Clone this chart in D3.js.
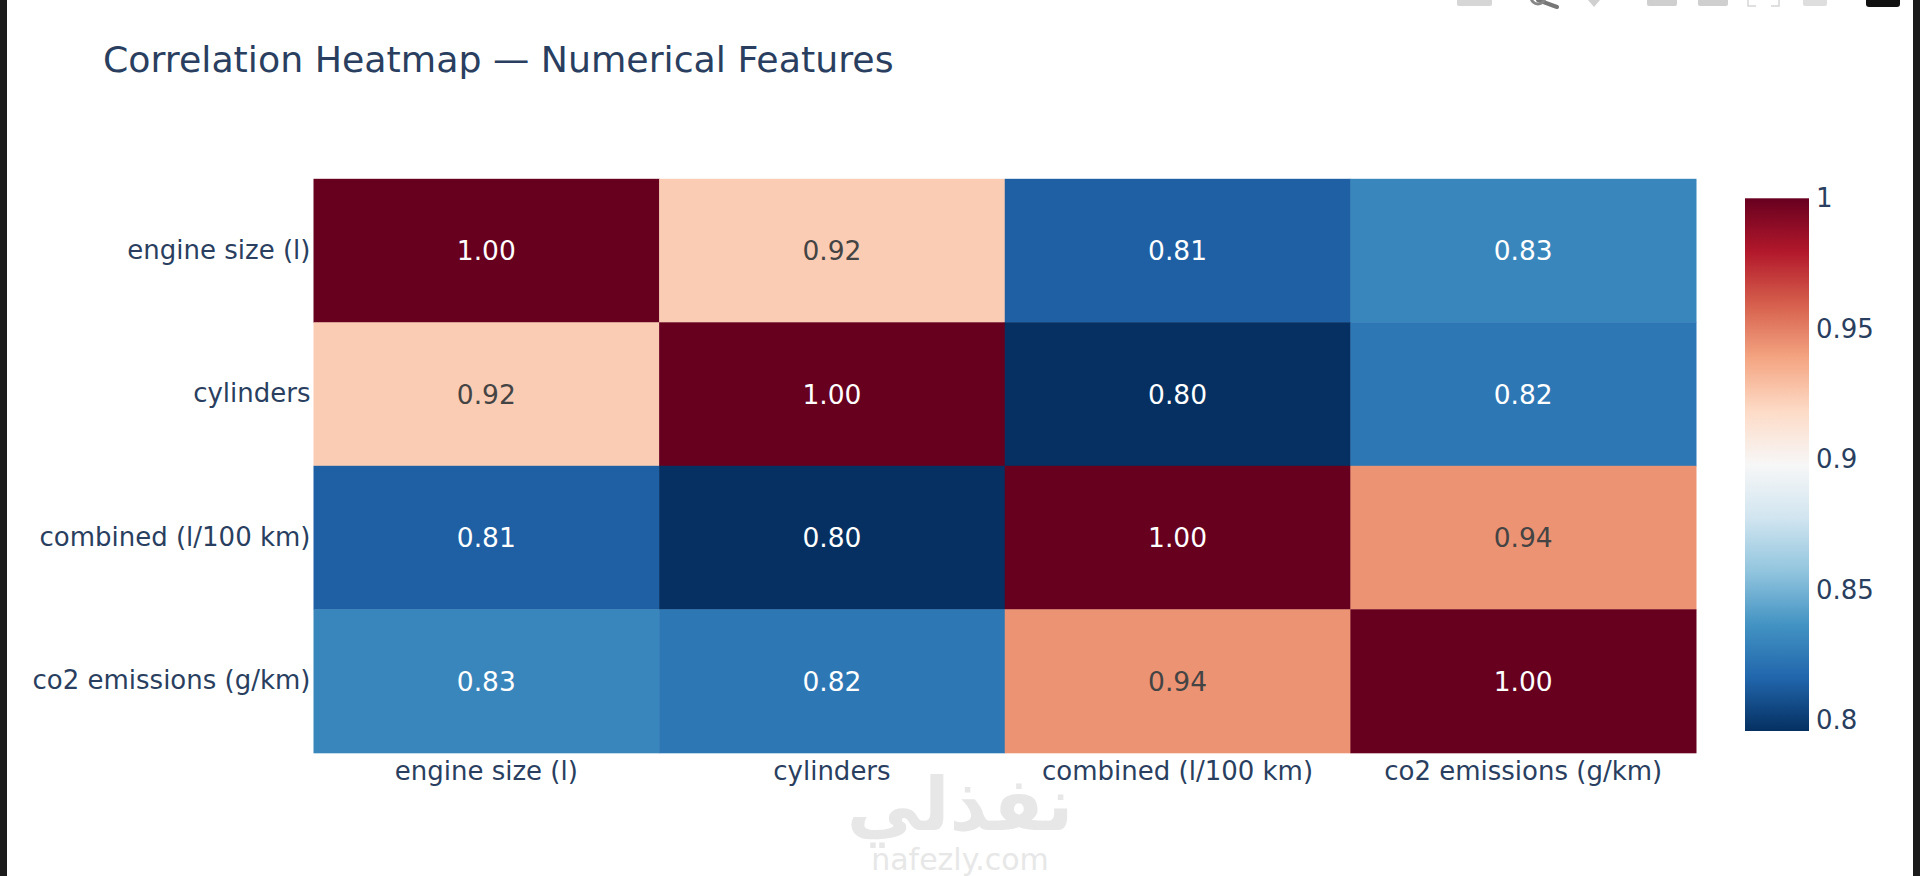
<!DOCTYPE html>
<html>
<head>
<meta charset="utf-8">
<script src="https://cdn.jsdelivr.net/npm/d3@7"></script>
<style>
  html, body { margin: 0; padding: 0; background: #fff; }
  svg { display: block; }
  text { font-family: "DejaVu Sans", Verdana, sans-serif; }
</style>
</head>
<body>
<svg id="chart" width="1920" height="876"></svg>
<script>
// feature names, same order on both axes
var features = ['engine size (l)', 'cylinders', 'combined (l/100 km)', 'co2 emissions (g/km)'];

// correlation rows
var rowEngine   = [1.000, 0.924, 0.814, 0.831];
var rowCyl      = [0.924, 1.000, 0.796, 0.824];
var rowCombined = [0.814, 0.796, 1.000, 0.944];
var rowCo2      = [0.831, 0.824, 0.944, 1.000];

var colorbarTicks = [0.8, 0.85, 0.9, 0.95, 1];

// plotly RdBu reversed
var rdbuStops = ['#053061', '#2166ac', '#4393c3', '#92c5de', '#d1e5f0', '#f7f7f7',
  '#fddbc7', '#f4a582', '#d6604d', '#b2182b', '#67001f'];

var matrix = [rowEngine, rowCyl, rowCombined, rowCo2];

var svg = d3.select('#chart');
var W = 1920, H = 876;
var FONT = '"DejaVu Sans", Verdana, sans-serif';

// plot area
var plot = { left: 313.5, right: 1696, top: 178.8, bottom: 752.8 };

var cells = [];
matrix.forEach(function (row, i) {
  row.forEach(function (v, j) {
    cells.push({ row: features[i], col: features[j], value: v });
  });
});

var zmin = d3.min(cells, function (d) { return d.value; });
var zmax = d3.max(cells, function (d) { return d.value; });

var x = d3.scaleBand().domain(features).range([plot.left, plot.right]);
var y = d3.scaleBand().domain(features).range([plot.top, plot.bottom]);

var color = d3.scaleLinear()
  .domain(rdbuStops.map(function (c, i) { return zmin + (zmax - zmin) * i / (rdbuStops.length - 1); }))
  .range(rdbuStops)
  .interpolate(d3.interpolateRgb)
  .clamp(true);

// screenshot frame edges
svg.append('rect').attr('x', 0).attr('y', 0).attr('width', 7).attr('height', H).attr('fill', '#1b1b1b');
svg.append('rect').attr('x', 1913).attr('y', 0).attr('width', 7).attr('height', H).attr('fill', '#1b1b1b');

// cut-off modebar at top
var modebar = svg.append('g').attr('class', 'modebar');
[[1457, 35, '#d6d6d6'], [1647, 30, '#cfcfcf'], [1698, 30, '#cfcfcf'], [1803, 24, '#dedede']].forEach(function (b) {
  modebar.append('rect').attr('x', b[0]).attr('y', -4).attr('width', b[1]).attr('height', 10).attr('rx', 2).attr('fill', b[2]);
});
modebar.append('line').attr('x1', 1538).attr('y1', 0).attr('x2', 1557).attr('y2', 7)
  .attr('stroke', '#777').attr('stroke-width', 4).attr('stroke-linecap', 'round');
modebar.append('circle').attr('cx', 1538).attr('cy', -3).attr('r', 7).attr('fill', 'none').attr('stroke', '#888').attr('stroke-width', 3);
modebar.append('path').attr('d', 'M1588,0 L1600,0 L1594,7 Z').attr('fill', '#d0d0d0');
modebar.append('path').attr('d', 'M1748,-2 V6 H1756 M1779,-2 V6 H1771').attr('fill', 'none').attr('stroke', '#d6d6d6').attr('stroke-width', 1.5);
modebar.append('rect').attr('x', 1866).attr('y', -6).attr('width', 34).attr('height', 13).attr('rx', 3).attr('fill', '#111');

// title
svg.append('text')
  .attr('x', 103).attr('y', 72)
  .attr('font-size', 36.3)
  .attr('fill', '#2a3f5f')
  .text('Correlation Heatmap — Numerical Features');

// heatmap cells
var cellG = svg.append('g').attr('class', 'cells');
cellG.selectAll('rect')
  .data(cells)
  .enter()
  .append('rect')
  .attr('x', function (d) { return x(d.col); })
  .attr('y', function (d) { return y(d.row); })
  .attr('width', x.bandwidth() + 0.5)
  .attr('height', y.bandwidth() + 0.5)
  .attr('fill', function (d) { return color(d.value); });

cellG.selectAll('text')
  .data(cells)
  .enter()
  .append('text')
  .attr('x', function (d) { return x(d.col) + x.bandwidth() / 2; })
  .attr('y', function (d) { return y(d.row) + y.bandwidth() / 2; })
  .attr('dy', '0.36em')
  .attr('text-anchor', 'middle')
  .attr('font-size', 26.5)
  .attr('fill', function (d) { return d3.lab(color(d.value)).l > 62 ? '#444' : '#fff'; })
  .text(function (d) { return d3.format('.2f')(d.value); });

// axes
var yAxis = svg.append('g')
  .attr('transform', 'translate(' + plot.left + ',0)')
  .call(d3.axisLeft(y).tickSize(0).tickPadding(3));
var xAxis = svg.append('g')
  .attr('transform', 'translate(0,' + plot.bottom + ')')
  .call(d3.axisBottom(x).tickSize(0).tickPadding(9));

[xAxis, yAxis].forEach(function (a) {
  a.select('.domain').remove();
  a.selectAll('text')
    .attr('font-family', FONT)
    .attr('font-size', 26)
    .attr('fill', '#2a3f5f');
});

// colorbar
var cb = { left: 1745, right: 1809, top: 198.3, bottom: 731 };
var cbScale = d3.scaleLinear().domain([zmin, zmax]).range([cb.bottom, cb.top]);

var grad = svg.append('defs').append('linearGradient')
  .attr('id', 'cbgrad')
  .attr('x1', 0).attr('y1', 1).attr('x2', 0).attr('y2', 0);
rdbuStops.forEach(function (c, i) {
  grad.append('stop').attr('offset', (i / (rdbuStops.length - 1) * 100) + '%').attr('stop-color', c);
});

svg.append('rect')
  .attr('x', cb.left).attr('y', cb.top)
  .attr('width', cb.right - cb.left).attr('height', cb.bottom - cb.top)
  .attr('fill', 'url(#cbgrad)');

var cbAxis = svg.append('g')
  .attr('transform', 'translate(' + cb.right + ',0)')
  .call(d3.axisRight(cbScale).tickValues(colorbarTicks).tickSize(0).tickPadding(7).tickFormat(d3.format('~g')));
cbAxis.select('.domain').remove();
cbAxis.selectAll('text')
  .attr('font-family', FONT)
  .attr('font-size', 26)
  .attr('fill', '#2a3f5f');

// watermark
var wm = svg.append('g').attr('opacity', 0.55);
wm.append('text')
  .attr('x', 960).attr('y', 830)
  .attr('text-anchor', 'middle')
  .attr('font-size', 74)
  .attr('font-weight', 'bold')
  .attr('fill', '#d4d4d4')
  .text('نفذلي');
wm.append('text')
  .attr('x', 960).attr('y', 870)
  .attr('text-anchor', 'middle')
  .attr('font-size', 30)
  .attr('fill', '#d4d4d4')
  .text('nafezly.com');
</script>
</body>
</html>
